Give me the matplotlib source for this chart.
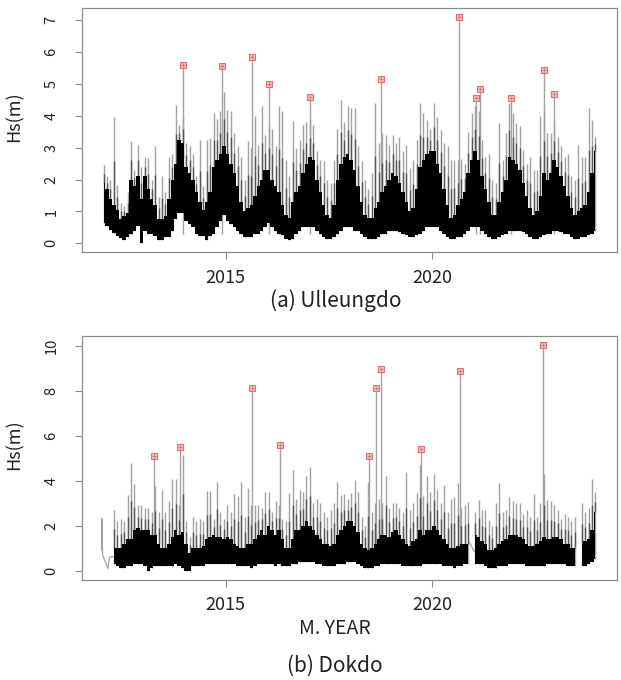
import numpy as np
import matplotlib
matplotlib.use("Agg")
import matplotlib.pyplot as plt

plt.rcParams["font.family"] = ["Noto Sans CJK KR", "DejaVu Sans"]

nan = np.nan
START_YEAR = 2012
N_YEARS = 12

# ---- Ulleungdo: monthly envelope (Jan..Dec, 2012..2023)
ULL_HI = [
    2.47, 2.10, 2.00, 3.96, 1.84, 1.27, 1.16, 1.60, 3.20, 2.30, 3.10, 2.40,
    2.70, 2.67, 2.00, 3.06, 1.47, 2.10, 1.60, 2.70, 2.80, 4.35, 3.70, 4.00,
    3.15, 3.05, 2.80, 2.10, 3.25, 1.80, 3.25, 3.30, 4.10, 3.90, 4.15, 4.75,
    4.19, 4.15, 3.46, 3.05, 2.70, 2.00, 3.20, 3.00, 4.00, 3.10, 4.30, 3.40,
    3.67, 3.60, 3.05, 4.30, 4.15, 2.60, 2.10, 3.83, 3.00, 3.25, 3.70, 3.80,
    3.90, 3.70, 2.90, 2.60, 2.57, 2.00, 1.90, 2.60, 3.60, 4.50, 3.80, 4.30,
    4.25, 4.25, 3.05, 2.57, 2.00, 1.70, 2.20, 4.40, 3.15, 3.46, 3.40, 3.10,
    3.40, 3.15, 3.35, 2.90, 3.10, 2.35, 2.60, 3.25, 4.40, 4.10, 3.88, 3.60,
    4.40, 3.98, 3.56, 3.15, 3.05, 2.60, 2.60, 2.60, 2.65, 2.50, 3.50, 4.10,
    4.30, 4.15, 3.25, 2.70, 2.80, 2.00, 1.90, 3.77, 2.60, 3.46, 4.40, 4.10,
    3.77, 3.67, 2.94, 2.50, 2.70, 2.30, 2.30, 4.00, 4.20, 3.46, 3.46, 3.83,
    3.35, 3.05, 2.70, 2.80, 2.10, 2.00, 3.10, 2.70, 2.70, 4.25, 3.88, 3.35,
]
ULL_CORE = [
    1.9, 1.7, 1.4, 1.2, 1.05, 0.75, 0.85, 0.95, 2.0, 1.8, 2.1, 1.4,
    2.1, 1.7, 1.4, 1.2, 0.75, 0.75, 0.85, 1.4, 2.0, 2.5, 3.25, 3.15,
    2.4, 2.2, 2.0, 1.6, 1.3, 1.05, 1.3, 1.6, 2.4, 2.6, 2.8, 3.05,
    2.8, 2.5, 2.2, 1.8, 1.3, 1.0, 1.1, 1.2, 1.5, 1.8, 2.0, 2.3,
    2.3, 2.0, 1.8, 1.6, 1.2, 0.9, 0.8, 1.3, 1.6, 1.8, 2.2, 2.5,
    2.7, 2.6, 2.0, 1.6, 1.2, 0.9, 0.8, 1.2, 2.0, 2.5, 2.7, 2.8,
    2.6, 2.3, 1.8, 1.3, 0.9, 0.8, 0.8, 1.1, 1.3, 1.6, 1.8, 2.0,
    2.2, 2.1, 1.9, 1.6, 1.3, 1.0, 1.1, 1.7, 2.4, 2.6, 2.8, 2.9,
    2.9, 2.5, 2.2, 1.7, 1.2, 0.8, 0.9, 1.2, 1.4, 1.6, 2.2, 2.6,
    2.9, 2.6, 2.1, 1.7, 1.3, 0.9, 0.9, 1.3, 1.6, 2.0, 2.7, 2.6,
    2.5, 2.3, 1.9, 1.5, 1.1, 0.9, 1.0, 1.5, 2.2, 2.0, 2.2, 2.6,
    2.4, 2.1, 1.8, 1.5, 1.1, 0.9, 1.0, 1.1, 1.2, 1.6, 2.2, 2.9,
]
ULL_LO = [
    0.64, 0.53, 0.43, 0.33, 0.22, 0.17, 0.12, 0.20, 0.30, 0.40, 0.53, 0.00,
    0.40, 0.30, 0.30, 0.22, 0.12, 0.12, 0.20, 0.20, 0.40, 0.75, 0.95, 0.95,
    0.70, 0.60, 0.50, 0.30, 0.22, 0.22, 0.12, 0.22, 0.30, 0.50, 0.70, 0.90,
    0.70, 0.60, 0.50, 0.40, 0.30, 0.20, 0.20, 0.20, 0.30, 0.30, 0.40, 0.50,
    0.64, 0.50, 0.40, 0.30, 0.25, 0.15, 0.12, 0.15, 0.30, 0.40, 0.50, 0.50,
    0.50, 0.50, 0.40, 0.30, 0.20, 0.15, 0.15, 0.20, 0.30, 0.40, 0.50, 0.50,
    0.50, 0.40, 0.40, 0.30, 0.20, 0.15, 0.15, 0.15, 0.20, 0.30, 0.30, 0.40,
    0.40, 0.40, 0.35, 0.30, 0.25, 0.20, 0.20, 0.25, 0.30, 0.40, 0.50, 0.50,
    0.50, 0.50, 0.40, 0.30, 0.20, 0.15, 0.15, 0.20, 0.20, 0.30, 0.40, 0.50,
    0.50, 0.50, 0.40, 0.30, 0.20, 0.15, 0.15, 0.20, 0.25, 0.30, 0.40, 0.40,
    0.40, 0.40, 0.35, 0.30, 0.20, 0.15, 0.15, 0.20, 0.25, 0.30, 0.30, 0.40,
    0.40, 0.35, 0.30, 0.30, 0.20, 0.15, 0.15, 0.20, 0.20, 0.25, 0.30, 0.40,
]
ULL_PEAK_T = [2013.96, 2014.91, 2015.65, 2016.04, 2017.05, 2018.76,
              2020.66, 2021.07, 2021.15, 2021.90, 2022.70, 2022.96]
ULL_PEAK_V = [5.61, 5.58, 5.86, 5.00, 4.58, 5.15,
              7.10, 4.56, 4.84, 4.56, 5.45, 4.69]

# ---- Dokdo (nan = no record that month)
DOK_HI = [
    nan, nan, nan, 2.70, 2.20, 2.30, 2.20, 3.35, 4.77, 3.85, 2.90, 2.90,
    2.80, 2.80, 2.60, 3.75, 2.60, 3.60, 2.60, 3.10, 4.10, 4.10, 2.90, 5.15,
    2.20, 1.50, 2.40, 2.20, 2.30, 2.20, 3.55, 3.55, 2.30, 3.95, 2.60, 2.30,
    2.90, 2.60, 3.40, 3.30, 3.95, 2.40, 3.70, 2.90, 2.90, 2.90, 2.80, 3.50,
    3.50, 2.60, 3.10, 2.90, 2.30, 2.20, 3.45, 4.48, 3.20, 3.60, 3.50, 4.20,
    4.60, 3.00, 3.20, 3.00, 2.60, 2.40, 2.70, 3.00, 3.96, 3.38, 3.40, 3.20,
    3.45, 4.03, 3.50, 2.40, 2.00, 3.96, 2.60, 3.00, 3.20, 3.00, 4.20, 2.80,
    3.00, 3.00, 2.80, 2.60, 4.40, 2.70, 3.00, 3.45, 4.70, 3.30, 4.20, 3.50,
    4.30, 3.60, 2.99, 3.81, 2.60, 3.20, 3.28, 3.88, 2.80, 2.90, 3.07, nan,
    2.60, 3.15, 2.70, 2.70, 2.25, 2.00, 3.00, 3.92, 2.60, 2.70, 3.28, 3.10,
    3.00, 3.00, 2.50, 2.70, 2.40, 3.42, 2.40, 3.00, 4.30, 3.15, 3.10, 2.90,
    2.70, 2.30, 2.50, 2.40, 2.20, 2.40, nan, 2.99, 2.60, 2.80, 4.06, 3.50,
]
DOK_CORE = [
    nan, nan, nan, 1.0, 1.0, 1.0, 1.2, 1.4, 1.4, 1.8, 1.9, 1.8,
    1.8, 1.8, 1.6, 1.6, 1.2, 1.0, 1.0, 1.2, 1.5, 1.8, 1.6, 1.7,
    1.2, 0.8, 1.0, 1.0, 1.0, 1.1, 1.4, 1.5, 1.6, 1.5, 1.5, 1.4,
    1.5, 1.4, 1.2, 1.1, 1.0, 1.0, 1.2, 1.2, 1.4, 1.6, 1.8, 1.6,
    2.0, 1.8, 1.6, 1.8, 1.4, 1.0, 1.0, 1.4, 1.8, 1.8, 2.0, 2.2,
    2.0, 1.8, 1.6, 1.4, 1.2, 1.2, 1.1, 1.2, 1.6, 1.8, 2.0, 2.2,
    2.2, 2.0, 1.7, 1.2, 1.0, 0.9, 1.0, 1.2, 1.4, 1.6, 1.6, 1.5,
    1.7, 1.8, 1.6, 1.4, 1.2, 1.1, 1.3, 1.4, 1.8, 1.6, 1.8, 1.8,
    2.0, 1.8, 1.6, 1.4, 1.2, 1.0, 1.0, 1.1, 1.2, 1.2, 1.2, nan,
    1.6, 1.5, 1.3, 1.2, 0.9, 0.9, 1.0, 1.2, 1.3, 1.4, 1.6, 1.6,
    1.6, 1.5, 1.4, 1.2, 1.1, 1.1, 1.2, 1.3, 1.5, 1.4, 1.4, 1.5,
    1.5, 1.4, 1.2, 1.2, 1.0, 1.0, nan, 1.2, 1.3, 1.4, 1.8, 2.6,
]
DOK_LO = [
    nan, nan, nan, 0.3, 0.2, 0.1, 0.1, 0.2, 0.2, 0.3, 0.3, 0.3,
    0.2, 0.0, 0.1, 0.2, 0.2, 0.2, 0.2, 0.2, 0.2, 0.3, 0.2, 0.1,
    0.0, 0.0, 0.2, 0.2, 0.2, 0.2, 0.3, 0.3, 0.3, 0.3, 0.3, 0.3,
    0.3, 0.3, 0.3, 0.2, 0.2, 0.2, 0.2, 0.1, 0.2, 0.3, 0.3, 0.3,
    0.3, 0.3, 0.2, 0.3, 0.2, 0.2, 0.2, 0.3, 0.3, 0.4, 0.4, 0.4,
    0.4, 0.4, 0.3, 0.3, 0.2, 0.2, 0.2, 0.2, 0.3, 0.3, 0.3, 0.4,
    0.4, 0.4, 0.3, 0.2, 0.1, 0.1, 0.1, 0.2, 0.2, 0.3, 0.3, 0.3,
    0.3, 0.3, 0.3, 0.2, 0.2, 0.2, 0.2, 0.2, 0.2, 0.3, 0.3, 0.3,
    0.3, 0.3, 0.3, 0.2, 0.2, 0.2, 0.1, 0.2, 0.2, 0.3, 0.3, nan,
    0.3, 0.3, 0.3, 0.2, 0.1, 0.1, 0.1, 0.2, 0.2, 0.2, 0.3, 0.3,
    0.3, 0.3, 0.3, 0.2, 0.2, 0.2, 0.2, 0.2, 0.2, 0.3, 0.3, 0.3,
    0.3, 0.3, 0.3, 0.2, 0.2, 0.2, nan, 0.2, 0.2, 0.3, 0.4, 0.5,
]
# sparse records before the buoy series really starts / across a gap
DOK_START_T = [2012.00, 2012.00, 2012.02, 2012.15, 2012.19, 2012.29]
DOK_START_V = [0.90, 2.33, 0.70, 0.10, 0.62, 0.62]
DOK_GAP_T = [2020.92, 2021.02]
DOK_GAP_V = [1.22, 0.85]
DOK_PEAK_T = [2013.26, 2013.89, 2015.65, 2016.32, 2018.47,
              2018.64, 2018.76, 2019.73, 2020.67, 2022.68]
DOK_PEAK_V = [5.09, 5.50, 8.13, 5.61, 5.09, 8.13, 8.95, 5.43, 8.89, 10.03]

GRAY = "#a2a2a2"
FRAME = "#8c8c8c"


def month_centers():
    idx = np.arange(N_YEARS * 12)
    return START_YEAR + (idx + 0.5) / 12.0


def draw_panel(ax, hi, core, lo, peak_t, peak_v, ylim, yticks):
    t = month_centers()
    hi = np.asarray(hi, float)
    core = np.asarray(core, float)
    lo = np.asarray(lo, float)

    # gray: highest spike each month (darker where overplotted lower down),
    # black: dense body of the record
    ax.vlines(t, lo, hi, color=GRAY, lw=1.0, zorder=1)
    ax.vlines(t, core, (core + hi) / 2, color="#555555", lw=1.0, zorder=1.5)
    ax.vlines(peak_t, 0.3, peak_v, color=GRAY, lw=1.0, zorder=1)
    ax.fill_between(t, lo, core, step="mid", color="black", lw=0, zorder=2)

    ax.plot(peak_t, peak_v, "s", ms=4.5, mfc="#f4bcbc", mec="#dc7474",
            mew=0.8, zorder=4)
    ax.plot(peak_t, peak_v, "+", ms=3.5, color="#dc7474", mew=0.6, zorder=5)

    ax.set_xlim(2011.52, 2024.48)
    ax.set_ylim(*ylim)
    ax.set_xticks([2015, 2020])
    ax.set_yticks(yticks)
    for lab in ax.get_yticklabels():
        lab.set_rotation(90)
        lab.set_va("center")
    ax.tick_params(axis="y", colors=FRAME, labelcolor="#222222",
                   length=5, width=0.8, labelsize=10.5, pad=12)
    ax.tick_params(axis="x", colors=FRAME, labelcolor="#222222",
                   length=5, width=0.8, labelsize=13, pad=7)
    for s in ax.spines.values():
        s.set_color(FRAME)
        s.set_linewidth(0.9)
    ax.set_ylabel("Hs(m)", fontsize=13, color="#222222")
    ax.yaxis.set_label_coords(-0.109, 0.555)


fig = plt.figure(figsize=(6.21, 6.80), dpi=100)
ax1 = fig.add_axes([0.132, 0.629, 0.8616, 0.359])
ax2 = fig.add_axes([0.132, 0.1475, 0.8616, 0.3588])

draw_panel(ax1, ULL_HI, ULL_CORE, ULL_LO, ULL_PEAK_T, ULL_PEAK_V,
           (-0.28, 7.38), range(0, 8))
draw_panel(ax2, DOK_HI, DOK_CORE, DOK_LO, DOK_PEAK_T, DOK_PEAK_V,
           (-0.40, 10.45), range(0, 11, 2))
ax2.plot(DOK_START_T, DOK_START_V, color=GRAY, lw=0.9, zorder=1)
ax2.plot(DOK_GAP_T, DOK_GAP_V, color=GRAY, lw=0.9, zorder=1)

fig.text(336 / 621, 1 - 301 / 680, "(a) Ulleungdo", ha="center", va="center",
         fontsize=15, color="#222222")
fig.text(335 / 621, 1 - 628 / 680, "M. YEAR", ha="center", va="center",
         fontsize=14, color="#222222")
fig.text(335 / 621, 1 - 666 / 680, "(b) Dokdo", ha="center", va="center",
         fontsize=15, color="#222222")

fig.savefig("out.png", dpi=100)
